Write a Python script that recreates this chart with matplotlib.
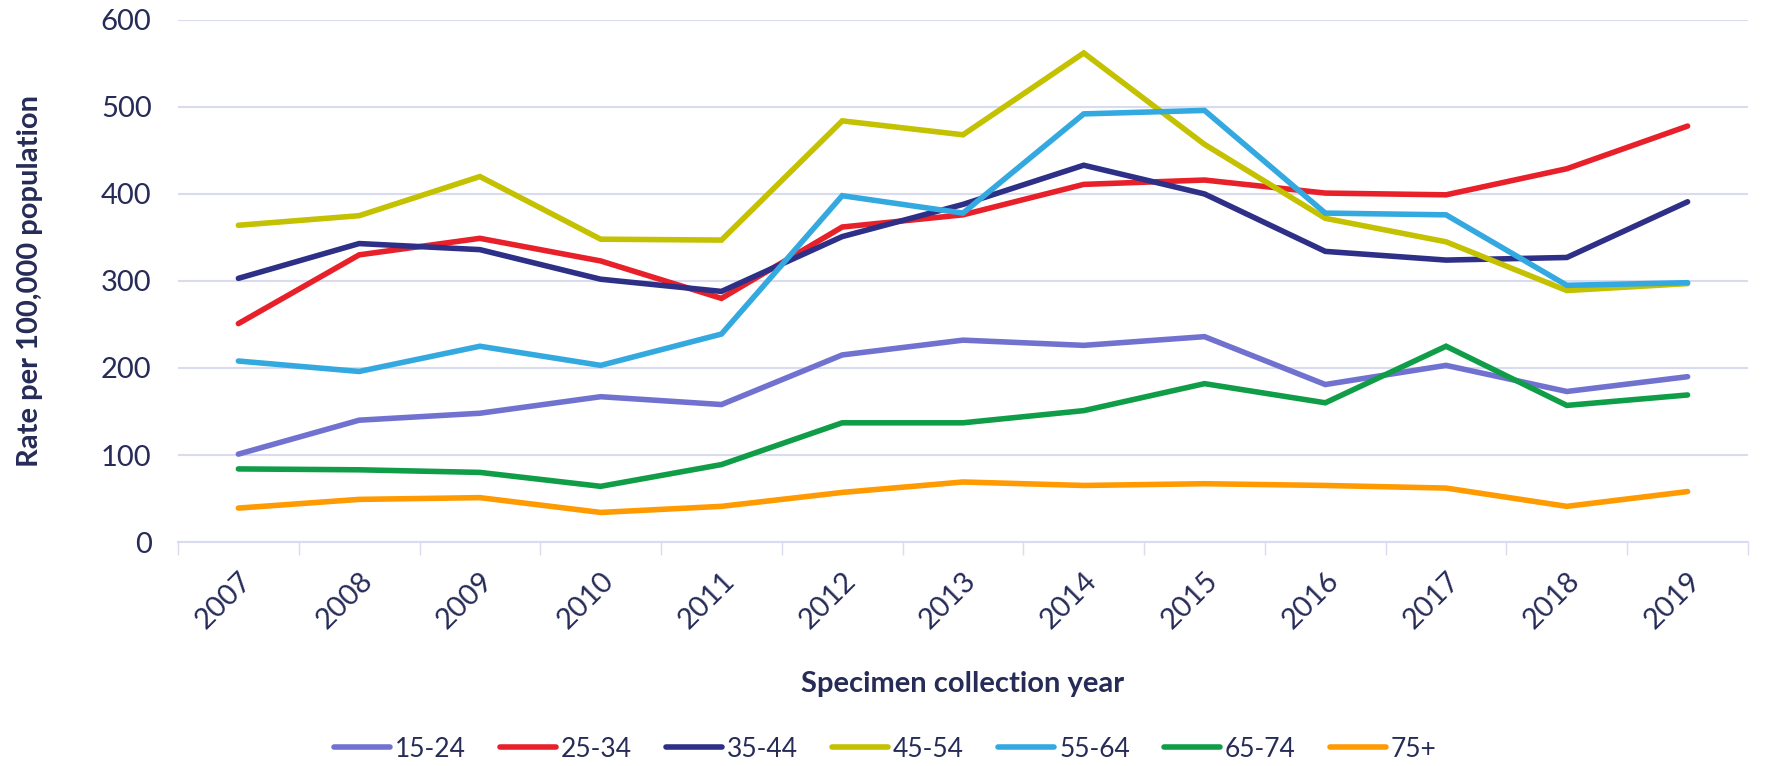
import matplotlib.pyplot as plt

years = ['2007', '2008', '2009', '2010', '2011', '2012', '2013',
         '2014', '2015', '2016', '2017', '2018', '2019']

age_15_24 = [101, 140, 148, 167, 158, 215, 232, 226, 236, 181, 203, 173, 190]
age_25_34 = [251, 330, 349, 323, 280, 362, 376, 411, 416, 401, 399, 429, 478]
age_35_44 = [303, 343, 336, 302, 288, 351, 388, 433, 400, 334, 324, 327, 391]
age_45_54 = [364, 375, 420, 348, 347, 484, 468, 562, 457, 372, 345, 289, 297]
age_55_64 = [208, 196, 225, 203, 239, 398, 378, 492, 496, 378, 376, 295, 298]
age_65_74 = [84, 83, 80, 64, 89, 137, 137, 151, 182, 160, 225, 157, 169]
age_75_plus = [39, 49, 51, 34, 41, 57, 69, 65, 67, 65, 62, 41, 58]

labels = ['15-24', '25-34', '35-44', '45-54', '55-64', '65-74', '75+']
colors = ['#7172d0', '#e8202a', '#2e2f87', '#c3c100', '#33a9e0', '#0f9d48', '#ff9a00']
series = [age_15_24, age_25_34, age_35_44, age_45_54, age_55_64, age_65_74, age_75_plus]

text_col = '#262b57'
grid_col = '#d9dbef'

plt.rcParams['font.family'] = ['Lato', 'DejaVu Sans']

fig = plt.figure(figsize=(17.71, 7.66), dpi=100)
ax = fig.add_axes([0.1005, 0.2924, 0.8865, 0.6816])

x = list(range(len(years)))
for vals, lab, col in zip(series, labels, colors):
    ax.plot(x, vals, color=col, lw=4, label=lab, solid_capstyle='round', solid_joinstyle='miter')

ax.set_ylim(0, 600)
ax.set_yticks(range(0, 601, 100))
ax.set_xlim(-0.5, len(years) - 0.5)
ax.set_xticks(x)
ax.set_xticklabels(years, rotation=45, ha='right', rotation_mode='anchor')
ax.tick_params(axis='x', which='major', length=0, pad=18, labelsize=21, labelcolor=text_col)
ax.set_xticks([i - 0.5 for i in range(len(years) + 1)], minor=True)
ax.tick_params(axis='x', which='minor', length=9, width=1, color=grid_col)
ax.tick_params(axis='y', length=0, pad=19, labelsize=21, labelcolor=text_col)

ax.grid(axis='y', color=grid_col, lw=1.5)
ax.set_axisbelow(True)
for s in ['top', 'right', 'left']:
    ax.spines[s].set_visible(False)
ax.spines['bottom'].set_color(grid_col)
ax.spines['bottom'].set_linewidth(1.5)

ax.set_ylabel('Rate per 100,000 population', fontsize=21, fontweight='bold', color=text_col, labelpad=42)
ax.set_xlabel('Specimen collection year', fontsize=21, fontweight='bold', color=text_col, labelpad=27)

fig.legend(loc='center', bbox_to_anchor=(0.5, 0.022), ncol=7, frameon=False,
           fontsize=19, labelcolor=text_col, handlelength=2.1, columnspacing=1.3,
           handletextpad=0.2)

fig.savefig('out.png', dpi=100)
